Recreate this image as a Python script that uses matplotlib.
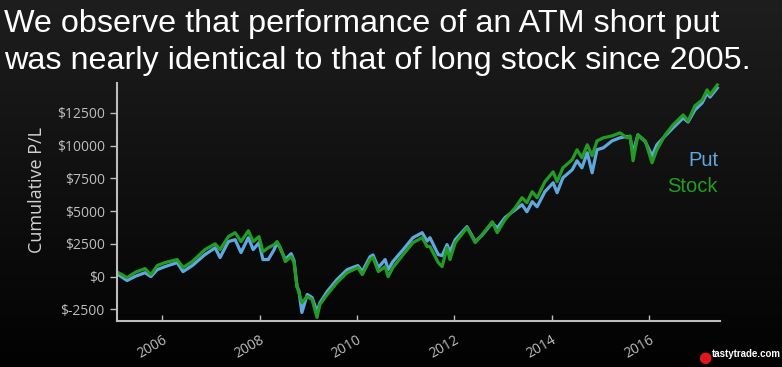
import numpy as np
import matplotlib.pyplot as plt

# decimal years
years = [2005.10, 2005.28, 2005.45, 2005.65, 2005.77, 2005.90, 2006.06, 2006.31, 2006.43, 2006.62,
         2006.88, 2007.09, 2007.19, 2007.36, 2007.50, 2007.62, 2007.77, 2007.87, 2007.99, 2008.07,
         2008.18, 2008.30, 2008.36, 2008.42, 2008.53, 2008.65, 2008.71, 2008.77, 2008.81, 2008.87,
         2008.98, 2009.08, 2009.18, 2009.24, 2009.39, 2009.59, 2009.80, 2010.02, 2010.11, 2010.27,
         2010.33, 2010.44, 2010.58, 2010.64, 2010.74, 2010.95, 2011.15, 2011.34, 2011.44, 2011.50,
         2011.67, 2011.75, 2011.85, 2011.91, 2012.02, 2012.26, 2012.43, 2012.57, 2012.78, 2012.88,
         2013.04, 2013.25, 2013.39, 2013.49, 2013.60, 2013.70, 2013.86, 2014.03, 2014.11, 2014.23,
         2014.42, 2014.52, 2014.62, 2014.73, 2014.83, 2014.93, 2015.06, 2015.24, 2015.40, 2015.55,
         2015.61, 2015.67, 2015.77, 2015.92, 2016.06, 2016.16, 2016.33, 2016.49, 2016.70, 2016.80,
         2016.94, 2017.09, 2017.19, 2017.25, 2017.40]

stock = [300, -80, 330, 610, 150, 840, 1070, 1300, 690, 1150,
         2060, 2500, 2060, 3050, 3350, 2670, 3500, 2670, 3050, 1900,
         2200, 2440, 2670, 2290, 1150, 1520, 1070, -760, -1220, -1980,
         -1520, -1750, -3120, -2130, -1370, -460, 300, 690, 150, 1300,
         1450, 380, 760, 0, 690, 1680, 2590, 2970, 2300, 2290,
         1070, 760, 2210, 1300, 2590, 3730, 2590, 3200, 4190, 3350,
         4340, 5260, 6020, 5640, 6480, 6020, 7240, 8000, 7240, 8300,
         8920, 9680, 9070, 10060, 9220, 10360, 10590, 10740, 10970, 10590,
         10740, 8840, 10820, 10360, 8690, 9680, 10820, 11580, 12340, 11880,
         13030, 13490, 14250, 13870, 14630]

put = [150, -300, 20, 300, 0, 530, 760, 1070, 380, 840,
       1680, 2200, 1450, 2670, 2820, 1830, 2970, 2060, 2590, 1300,
       1300, 2060, 2590, 2200, 1300, 1750, 1200, -760, -1100, -2740,
       -1370, -1600, -2670, -2000, -1140, -230, 530, 840, 380, 1520,
       1650, 690, 1300, 530, 1150, 2060, 2970, 3350, 2700, 2970,
       1680, 1600, 2440, 1900, 2820, 3810, 2670, 3150, 4110, 3700,
       4500, 5100, 5490, 4950, 5720, 5330, 6480, 7160, 6400, 7540,
       8150, 8840, 8300, 9450, 7920, 9680, 9830, 10360, 10590, 10700,
       10600, 9450, 10820, 10300, 9220, 10060, 10740, 11350, 12110, 11800,
       12720, 13260, 14020, 13700, 14400]

xticks = [2006, 2008, 2010, 2012, 2014, 2016]
yticks = [-2500, 0, 2500, 5000, 7500, 10000, 12500]

put_color = '#5fa8de'
stock_color = '#249b24'
fg = '#d2d2d2'

fig = plt.figure(figsize=(7.82, 3.67), dpi=100)

# dark gradient background
bg = fig.add_axes([0, 0, 1, 1], zorder=-10)
grad = np.linspace(0, 1, 256).reshape(-1, 1)
bg.imshow(grad, aspect='auto', cmap=plt.matplotlib.colors.LinearSegmentedColormap.from_list(
    'bg', ['#1e1e1e', '#020202']), extent=(0, 1, 0, 1))
bg.axis('off')

ax = fig.add_axes([0.150, 0.125, 0.771, 0.649])
ax.patch.set_alpha(0)
ax.plot(years, put, color=put_color, lw=2.3)
ax.plot(years, stock, color=stock_color, lw=2.3)

ax.set_xlim(2005.08, 2017.46)
ax.set_ylim(-3400, 14780)
ax.set_xticks(xticks)
ax.set_xticklabels([str(y) for y in xticks], rotation=30, ha='right',
                   rotation_mode='anchor', family='Open Sans', fontsize=10, color=fg)
ax.set_yticks(yticks)
ax.set_yticklabels(['$%d' % v for v in yticks], family='Open Sans', fontsize=10, color=fg)
ax.tick_params(colors='#bdbdbd', width=1)
ax.tick_params(axis='x', direction='in', length=4, pad=8)
ax.tick_params(axis='y', direction='out', length=5, pad=4)
for s in ['top', 'right']:
    ax.spines[s].set_visible(False)
for s in ['left', 'bottom']:
    ax.spines[s].set_color('#bdbdbd')
    ax.spines[s].set_linewidth(1.5)
ax.set_ylabel('Cumulative P/L', family='Open Sans', fontsize=13, color=fg, labelpad=2)
ax.yaxis.set_label_coords(-0.118, 0.55)

# legend as plain text
fig.text(718/782, 1 - 161/367, 'Put', color=put_color, fontsize=14.5, ha='right', va='center',
         family='Liberation Sans')
fig.text(718/782, 1 - 186/367, 'Stock', color=stock_color, fontsize=14.5, ha='right', va='center',
         family='Liberation Sans')

# title
fig.text(4/782, 1 - 32/367, 'We observe that performance of an ATM short put',
         color='white', fontsize=23.3, ha='left', va='baseline', family='Liberation Sans')
fig.text(4/782, 1 - 69/367, 'was nearly identical to that of long stock since 2005.',
         color='white', fontsize=23.3, ha='left', va='baseline', family='Liberation Sans')

# logo
fig.text(705/782, 1 - 357/367, '\u25cf', color='#e0181b', fontsize=11, ha='center', va='center')
fig.text(712/782, 1 - 354/367, 'tastytrade.com', color='white', fontsize=7, ha='left',
         va='center', family='Liberation Sans', weight='bold')

plt.savefig('out.png', dpi=100)
